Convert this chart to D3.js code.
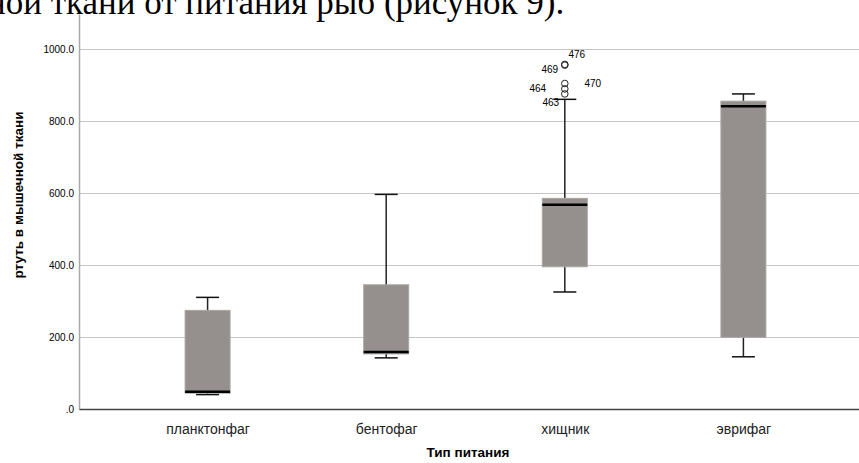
<!DOCTYPE html>
<html>
<head>
  <meta charset="utf-8">
  <title>Ртуть в мышечной ткани</title>
  <script src="https://cdn.jsdelivr.net/npm/d3@7"></script>
  <style>
    body { margin: 0; background: #ffffff; overflow: hidden; }
    .caption { font-family: "Liberation Serif", "Times New Roman", serif; font-size: 35px; fill: #000; }
    .tick-y { font-family: "Liberation Sans", Arial, sans-serif; font-size: 10px; fill: #000; }
    .tick-x { font-family: "Liberation Sans", Arial, sans-serif; font-size: 14px; fill: #222; }
    .axis-title { font-family: "Liberation Sans", Arial, sans-serif; font-size: 13.5px; font-weight: bold; fill: #000; }
    .case-label { font-family: "Liberation Sans", Arial, sans-serif; font-size: 10px; fill: #000; }
  </style>
</head>
<body>
<script>
// Data
var categories = ["планктонфаг", "бентофаг", "хищник", "эврифаг"];
var whiskerLow = [40, 142, 325, 145];
var q1 = [44, 153, 395, 199];
var median = [48, 158, 567, 841];
var q3 = [274, 345, 585, 855];
var whiskerHigh = [310, 596, 860, 875];

var outlierGroup = ["хищник", "хищник", "хищник", "хищник", "хищник"];
var outlierValue = [957, 955, 904, 889, 875];
var outlierCase = ["476", "469", "470", "464", "463"];

var yTicks = [0, 200, 400, 600, 800, 1000];

var width = 859, height = 463;
var plotLeft = 79, plotTop = 14, plotBottom = 409, plotRight = 872;

var svg = d3.select("body").append("svg")
    .attr("width", width)
    .attr("height", height);

// cut-off line of the document text above the chart
svg.append("text")
    .attr("class", "caption")
    .attr("x", -13)
    .attr("y", 14)
    .text("ной ткани от питания рыб (рисунок 9).");

var y = d3.scaleLinear().domain([0, 1097]).range([plotBottom, plotTop]);
var x = d3.scalePoint().domain(categories).range([plotLeft, plotRight]).padding(0.72);

// gridlines
svg.append("g")
    .selectAll("line")
    .data(yTicks.slice(1))
    .enter().append("line")
    .attr("x1", plotLeft).attr("x2", width)
    .attr("y1", function(d) { return Math.round(y(d)) + 0.5; })
    .attr("y2", function(d) { return Math.round(y(d)) + 0.5; })
    .attr("stroke", "#c6c6c6");

// y axis
var yAxis = d3.axisLeft(y).tickValues(yTicks).tickSize(0).tickPadding(5)
    .tickFormat(function(d) { return d === 0 ? ".0" : d3.format(".1f")(d); });
var gy = svg.append("g").attr("transform", "translate(" + plotLeft + ",0)").call(yAxis);
gy.select(".domain").attr("stroke", "#a8a8a8").attr("stroke-width", 1.5);
gy.selectAll("text").attr("class", "tick-y").attr("font-family", null).attr("font-size", null).attr("fill", null);

// x axis
var xAxis = d3.axisBottom(x).tickSize(0).tickPadding(15);
var gx = svg.append("g").attr("transform", "translate(0," + plotBottom + ")").call(xAxis);
gx.select(".domain").attr("stroke", "#444").attr("stroke-width", 1.5);
gx.selectAll("text").attr("class", "tick-x").attr("font-family", null).attr("font-size", null).attr("fill", null);

// axis titles
svg.append("text")
    .attr("class", "axis-title")
    .attr("transform", "translate(23,195) rotate(-90)")
    .attr("text-anchor", "middle")
    .text("ртуть в мышечной ткани");

svg.append("text")
    .attr("class", "axis-title")
    .attr("x", 468)
    .attr("y", 457)
    .attr("text-anchor", "middle")
    .text("Тип питания");

// boxes
var boxW = 45, capW = 23;
var boxes = svg.append("g").selectAll("g")
    .data(categories)
    .enter().append("g");

boxes.append("line")
    .attr("x1", function(d) { return x(d); })
    .attr("x2", function(d) { return x(d); })
    .attr("y1", function(d, i) { return y(whiskerLow[i]); })
    .attr("y2", function(d, i) { return y(whiskerHigh[i]); })
    .attr("stroke", "#222").attr("stroke-width", 1.5);

boxes.selectAll(".cap")
    .data(function(d, i) { return [[d, whiskerLow[i]], [d, whiskerHigh[i]]]; })
    .enter().append("line")
    .attr("class", "cap")
    .attr("x1", function(d) { return x(d[0]) - capW / 2; })
    .attr("x2", function(d) { return x(d[0]) + capW / 2; })
    .attr("y1", function(d) { return y(d[1]); })
    .attr("y2", function(d) { return y(d[1]); })
    .attr("stroke", "#111").attr("stroke-width", 1.5);

boxes.append("rect")
    .attr("x", function(d) { return x(d) - boxW / 2; })
    .attr("y", function(d, i) { return y(q3[i]); })
    .attr("width", boxW)
    .attr("height", function(d, i) { return y(q1[i]) - y(q3[i]); })
    .attr("fill", "#958f8d")
    .attr("stroke", "#aaa6a4")
    .attr("stroke-width", 1);

boxes.append("line")
    .attr("x1", function(d) { return x(d) - boxW / 2; })
    .attr("x2", function(d) { return x(d) + boxW / 2; })
    .attr("y1", function(d, i) { return y(median[i]); })
    .attr("y2", function(d, i) { return y(median[i]); })
    .attr("stroke", "#000").attr("stroke-width", 2.5);

// outliers and their case numbers
var labelShift = [[12, -10], [-15, 4], [28, 0], [-27, 0], [-14, 9]];
var outl = svg.append("g").selectAll("g")
    .data(outlierValue)
    .enter().append("g");

outl.append("circle")
    .attr("cx", function(d, i) { return x(outlierGroup[i]); })
    .attr("cy", function(d) { return y(d); })
    .attr("r", 3.3)
    .attr("fill", "none")
    .attr("stroke", "#222")
    .attr("stroke-width", 1);

outl.append("text")
    .attr("class", "case-label")
    .attr("x", function(d, i) { return x(outlierGroup[i]) + labelShift[i][0]; })
    .attr("y", function(d, i) { return y(d) + labelShift[i][1]; })
    .attr("dy", "0.35em")
    .attr("text-anchor", "middle")
    .text(function(d, i) { return outlierCase[i]; });
</script>
</body>
</html>
